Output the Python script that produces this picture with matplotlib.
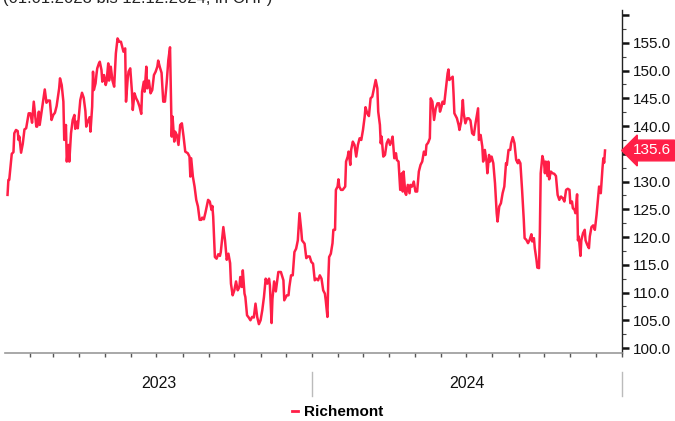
import numpy as np
import pandas as pd
import matplotlib
matplotlib.use("Agg")
import matplotlib.pyplot as plt
import matplotlib.dates as mdates
import matplotlib.transforms as mtransforms
from matplotlib.lines import Line2D

plt.rcParams['font.family'] = ['Liberation Sans', 'DejaVu Sans']

# Richemont share price, CHF (days counted from 2023-01-01)
day = [5, 6, 7, 10, 12, 13, 15, 17, 18, 19, 21, 23, 25, 27, 30, 32, 34, 36, 37, 39,
       40, 42, 43, 45, 47, 49, 51, 53, 55, 57, 59, 61, 63, 66, 67, 69, 71, 72, 74, 75,
       77, 78, 80, 82, 84, 85, 87, 88, 91, 93, 95, 97, 98, 99, 102, 103, 105, 106, 107, 109,
       110, 111, 113, 114, 116, 117, 119, 121, 122, 124, 125, 127, 129, 131, 133, 135, 137, 139, 141, 142,
       144, 145, 147, 148, 150, 152, 153, 155, 157, 159, 161, 163, 164, 166, 167, 169, 170, 172, 174, 176,
       178, 180, 182, 183, 185, 187, 189, 191, 193, 195, 197, 198, 199, 200, 202, 203, 205, 207, 209, 211,
       213, 215, 218, 220, 221, 222, 224, 226, 228, 230, 232, 234, 235, 237, 239, 242, 244, 246, 247, 248,
       250, 252, 254, 256, 257, 260, 262, 264, 266, 268, 269, 271, 273, 275, 277, 279, 280, 282, 283, 285,
       286, 288, 290, 292, 294, 296, 298, 300, 302, 304, 306, 308, 310, 312, 314, 315, 317, 318, 320, 322,
       324, 325, 328, 331, 332, 335, 337, 338, 340, 342, 344, 346, 348, 350, 352, 353, 356, 358, 360, 362,
       364, 366, 368, 370, 372, 374, 376, 378, 380, 381, 383, 384, 385, 387, 389, 390, 392, 393, 395, 396,
       397, 399, 401, 404, 405, 407, 408, 410, 411, 413, 415, 417, 419, 421, 423, 425, 427, 428, 430, 432,
       434, 436, 438, 440, 442, 443, 445, 446, 447, 449, 451, 453, 455, 457, 459, 460, 462, 464, 465, 467,
       469, 471, 472, 473, 475, 476, 478, 480, 481, 483, 485, 487, 489, 491, 493, 495, 497, 499, 500, 502,
       504, 505, 507, 509, 511, 513, 515, 516, 518, 519, 521, 523, 525, 526, 527, 529, 531, 532, 533, 536,
       538, 539, 541, 543, 544, 546, 548, 550, 552, 554, 556, 558, 560, 561, 562, 564, 566, 567, 569, 571,
       572, 574, 575, 577, 579, 581, 583, 584, 586, 588, 590, 592, 594, 595, 597, 599, 600, 602, 604, 606,
       608, 609, 611, 613, 615, 616, 618, 620, 622, 624, 625, 627, 628, 630, 631, 633, 634, 635, 637, 639,
       640, 641, 643, 644, 645, 647, 649, 651, 653, 655, 657, 659, 661, 663, 665, 667, 669, 670, 672, 673,
       675, 676, 678, 679, 680, 682, 683, 685, 687, 688, 690, 692, 693, 695, 697, 699, 701, 703, 704, 706,
       708, 709, 710, 711]
price = [127.6, 130.3, 130.3, 135.0, 135.3, 138.7, 139.3, 139.1, 137.5, 138.1, 135.2, 136.8, 139.4, 139.6, 142.3, 142.3, 140.6, 144.4, 142.9, 139.9,
         139.9, 142.6, 140.2, 142.3, 144.4, 146.6, 144.2, 144.6, 144.6, 141.1, 142.0, 142.4, 143.6, 146.8, 148.6, 147.4, 144.4, 137.5, 140.2, 133.6,
         136.6, 133.6, 138.7, 141.1, 142.0, 139.5, 140.8, 139.6, 144.7, 146.0, 145.1, 142.7, 139.9, 140.5, 141.6, 139.0, 143.5, 149.8, 146.5, 147.7,
         149.2, 150.4, 151.3, 151.6, 150.1, 148.0, 149.2, 147.4, 148.0, 151.3, 148.2, 150.7, 148.2, 147.1, 153.1, 155.8, 155.2, 155.2, 154.0, 153.4,
         154.0, 144.4, 148.6, 149.8, 150.4, 146.2, 142.9, 145.9, 145.0, 144.4, 143.5, 142.2, 146.2, 148.0, 146.2, 150.7, 146.8, 148.2, 145.9, 146.5,
         149.2, 149.8, 150.7, 151.8, 150.6, 149.6, 144.4, 144.4, 147.7, 151.9, 154.2, 146.5, 138.1, 141.7, 137.2, 139.0, 138.4, 136.6, 140.2, 140.5,
         138.1, 135.4, 135.1, 134.5, 130.9, 134.2, 130.9, 129.1, 126.7, 125.5, 123.1, 123.1, 123.5, 123.2, 124.5, 126.7, 126.4, 124.9, 125.6, 123.7,
         116.4, 116.1, 116.9, 116.6, 117.3, 121.8, 119.4, 115.9, 117.0, 115.3, 111.6, 109.5, 110.4, 112.0, 110.4, 111.0, 112.8, 111.0, 114.0, 109.8,
         109.2, 105.9, 105.5, 105.0, 105.6, 105.5, 108.0, 105.6, 104.3, 105.0, 106.8, 109.2, 112.5, 111.6, 112.5, 111.3, 104.5, 108.8, 112.0, 110.2,
         112.5, 113.7, 113.7, 112.2, 108.6, 109.5, 109.5, 111.0, 113.1, 113.1, 117.3, 117.9, 119.4, 124.3, 121.3, 119.4, 118.8, 116.2, 116.5, 116.5,
         115.5, 115.2, 112.2, 112.5, 112.2, 113.1, 112.5, 110.4, 109.8, 108.6, 105.6, 112.2, 116.4, 117.0, 118.9, 121.3, 121.3, 128.5, 129.1, 130.4,
         129.1, 128.5, 128.5, 129.1, 133.6, 134.5, 135.4, 133.0, 135.7, 137.2, 136.6, 134.5, 136.6, 137.8, 137.5, 139.3, 141.7, 143.4, 142.3, 141.8,
         145.0, 145.3, 146.8, 148.3, 146.8, 142.6, 140.2, 136.9, 138.1, 134.5, 134.8, 136.9, 137.6, 136.6, 137.5, 138.1, 134.2, 135.1, 133.9, 133.6,
         128.5, 131.5, 128.2, 131.8, 127.9, 127.6, 129.4, 127.9, 129.4, 129.1, 130.0, 128.2, 128.2, 131.8, 133.0, 133.6, 135.4, 134.8, 136.6, 137.0,
         137.8, 145.0, 144.4, 141.1, 143.2, 144.1, 144.1, 142.6, 143.6, 144.4, 144.0, 146.8, 149.5, 150.2, 148.3, 148.6, 148.9, 145.9, 142.3, 141.4,
         140.2, 139.3, 140.8, 144.7, 142.3, 140.5, 141.4, 141.4, 141.0, 138.7, 138.4, 140.5, 142.3, 143.2, 137.5, 138.4, 136.3, 133.6, 135.7, 133.6,
         131.5, 134.8, 133.6, 134.5, 133.3, 129.7, 124.3, 122.8, 125.5, 126.1, 127.9, 129.1, 133.3, 133.0, 135.7, 135.7, 136.9, 138.0, 136.9, 133.9,
         133.3, 133.9, 133.3, 128.5, 123.1, 119.8, 119.5, 118.9, 119.5, 120.5, 119.2, 119.8, 118.0, 115.9, 114.5, 114.4, 120.7, 131.5, 134.6, 133.3,
         131.5, 133.6, 131.0, 133.6, 130.4, 131.8, 131.5, 131.4, 131.0, 127.6, 126.7, 127.3, 127.0, 126.4, 128.5, 128.7, 128.5, 126.1, 126.4, 125.2,
         124.9, 124.3, 127.7, 119.4, 120.1, 116.6, 119.4, 120.7, 121.3, 119.4, 118.6, 118.0, 120.1, 121.8, 122.1, 121.3, 124.0, 127.3, 129.1, 127.9,
         132.4, 134.2, 133.4, 135.6]

series_name = "Richemont"
subtitle = "(01.01.2023 bis 12.12.2024, in CHF)"
years = ["2023", "2024"]
y_ticks = [100.0, 105.0, 110.0, 115.0, 120.0, 125.0, 130.0, 135.0, 140.0, 145.0, 150.0, 155.0]

dates = pd.Timestamp("2023-01-01") + pd.to_timedelta(day, unit="D")
red = "#ff1f47"

fig = plt.figure(figsize=(6.75, 4.21), dpi=100)
ax = fig.add_axes([0.0074, 0.1615, 0.914, 0.8145])

line, = ax.plot(dates, price, color=red, linewidth=1.8, solid_joinstyle="round")

x0 = pd.Timestamp("2023-01-03")
x1 = pd.Timestamp("2025-01-01")
ax.set_xlim(x0, x1)
ax.set_ylim(99.1, 160.9)

# spines
for s in ["top", "left"]:
    ax.spines[s].set_visible(False)
ax.spines["bottom"].set_color("#999999")
ax.spines["bottom"].set_linewidth(1.2)
ax.spines["right"].set_color("#222222")
ax.spines["right"].set_linewidth(1.0)

# y axis on the right; the 135 label sits under the last-value badge
ax.yaxis.tick_right()
ax.set_yticks(y_ticks + [160.0])
ax.set_yticklabels(["" if v == 135.0 else f"{v:.1f}" for v in y_ticks] + [""])
ax.set_yticks(np.arange(102.5, 160.0, 5.0), minor=True)
ax.tick_params(axis="y", which="major", direction="out", length=5, width=1.8,
               color="#111111", labelsize=11, pad=3, labelcolor="#111111")
ax.tick_params(axis="y", which="minor", direction="out", length=3, width=0.8, color="#444444")

# x axis: monthly ticks, no labels
ax.xaxis.set_major_locator(mdates.MonthLocator())
ax.xaxis.set_major_formatter(plt.NullFormatter())
ax.tick_params(axis="x", which="major", direction="out", length=3, width=1.0, color="#555555")

# year labels and separators
trans = mtransforms.blended_transform_factory(ax.transData, ax.transAxes)
bounds = [x0, pd.Timestamp("2024-01-01"), x1]
for i, yr in enumerate(years):
    mid = bounds[i] + (bounds[i + 1] - bounds[i]) / 2
    ax.text(mid, -0.09, yr, transform=trans, ha="center", va="center",
            fontsize=11.5, color="#111111")
for b in bounds[1:]:
    ax.add_line(Line2D([b, b], [-0.055, -0.125], transform=trans, color="#bbbbbb",
                       linewidth=1.0, clip_on=False))

# last value badge
ax.annotate(f"{price[-1]:.1f}", xy=(1.0, price[-1]),
            xycoords=("axes fraction", "data"), xytext=(8, 0), textcoords="offset points",
            ha="left", va="center", fontsize=11, color="white",
            bbox=dict(boxstyle="larrow,pad=0.22", fc=red, ec=red), annotation_clip=False)

# subtitle (cut at the top of the image)
fig.text(0.004, 1 - 3 / 421, subtitle, ha="left", va="baseline", fontsize=12, color="#222222")

# legend
leg = fig.legend(handles=[Line2D([0], [0], color=red, linewidth=2)], labels=[series_name],
                 loc="center", bbox_to_anchor=(0.5, 1 - 412 / 421), frameon=False,
                 handlelength=0.4, handletextpad=0.4, prop={"weight": "bold", "size": 11})

fig.savefig("out.png", dpi=100)
